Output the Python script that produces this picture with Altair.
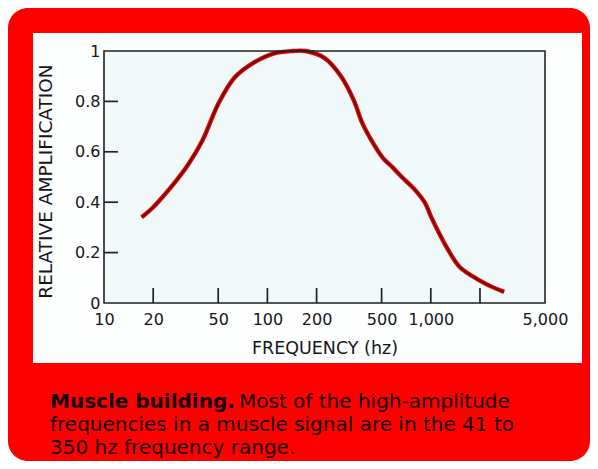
import altair as alt
import pandas as pd

# ---- data ----
freq_hz = [17, 20, 23.5, 28, 32, 40, 50, 63, 83, 109, 143, 171, 224, 282, 337, 381,
           443, 510, 580, 665, 803, 922, 1000, 1099, 1259, 1503, 1973, 2387, 2810]
rel_amp = [0.34, 0.38, 0.43, 0.49, 0.54, 0.645, 0.79, 0.895, 0.955, 0.99, 1.0, 1.0, 0.972, 0.9, 0.806, 0.714,
           0.635, 0.575, 0.54, 0.50, 0.448, 0.397, 0.345, 0.29, 0.218, 0.143, 0.091, 0.063, 0.044]

x_label_values = [10, 20, 50, 100, 200, 500, 1000, 5000]
x_tick_marks = [20, 50, 100, 200, 500, 1000, 2000]
y_label_values = [0, 0.2, 0.4, 0.6, 0.8, 1]
y_tick_marks = [0.2, 0.4, 0.6, 0.8]

x_title = "FREQUENCY (hz)"
y_title = "RELATIVE AMPLIFICATION"
caption_bold = "Muscle building."
caption_lines = ["Most of the high-amplitude",
                 "frequencies in a muscle signal are in the 41 to",
                 "350 hz frequency range."]

# ---- layout ----
W, H = 441, 252          # plot area
PL, PT = 96, 43          # padding left/top
CW, CH = 582, 453        # whole canvas
RED = "#fd0000"
TXT = "#161616"

curve = pd.DataFrame({"freq": freq_hz, "amp": rel_amp})
xt = pd.DataFrame({"freq": x_tick_marks})
yt = pd.DataFrame({"amp": y_tick_marks})
one = alt.Data(values=[{}])

xscale = alt.Scale(type="log", domain=[10, 5000], nice=False)
yscale = alt.Scale(domain=[0, 1], nice=False)

xaxis = alt.Axis(values=x_label_values, format=",d", title=x_title,
                 labelFont="DejaVu Sans", labelFontSize=16, labelColor=TXT, labelPadding=8,
                 ticks=False, domain=False, grid=False, labelFlush=False,
                 titleFont="DejaVu Sans", titleFontSize=17.5, titleFontWeight="normal", titleColor=TXT,
                 titleX=W / 2, titleY=45, titleBaseline="middle", titleAlign="center", zindex=1)
yaxis = alt.Axis(values=y_label_values, format=".1~f", title=y_title,
                 labelFont="DejaVu Sans", labelFontSize=16, labelColor=TXT, labelPadding=4,
                 ticks=False, domain=False, grid=False, labelFlush=False,
                 titleFont="DejaVu Sans", titleFontSize=18.5, titleFontWeight="normal", titleColor=TXT,
                 titleX=-59, titleY=H / 2 + 4, titleAngle=270, titleBaseline="middle", titleAlign="center",
                 zindex=1)

red_box = alt.Chart(one).mark_rect(fill=RED, cornerRadius=20).encode(
    x=alt.value(-PL), x2=alt.value(CW - PL), y=alt.value(-PT), y2=alt.value(CH - PT))
white_panel = alt.Chart(one).mark_rect(fill="#fdfefe").encode(
    x=alt.value(-71), x2=alt.value(478), y=alt.value(-18), y2=alt.value(312))
plot_fill = alt.Chart(one).mark_rect(fill="#f2f9fb").encode(
    x=alt.value(0), x2=alt.value(W), y=alt.value(0), y2=alt.value(H))

line_outer = alt.Chart(curve).mark_line(color="#e80808", strokeWidth=4.4, interpolate="catmull-rom").encode(
    x=alt.X("freq:Q", scale=xscale, axis=xaxis),
    y=alt.Y("amp:Q", scale=yscale, axis=yaxis))
line_inner = alt.Chart(curve).mark_line(color="#6e0b0b", strokeWidth=2.0, interpolate="catmull-rom").encode(
    x=alt.X("freq:Q"), y=alt.Y("amp:Q"))

xticks = alt.Chart(xt).mark_rule(color="#222", strokeWidth=1.7).encode(
    x=alt.X("freq:Q"), y=alt.value(H), y2=alt.value(H - 15))
yticks = alt.Chart(yt).mark_rule(color="#222", strokeWidth=1.7).encode(
    y=alt.Y("amp:Q"), x=alt.value(0), x2=alt.value(14))
frame = alt.Chart(one).mark_rect(fill=None, stroke="#222", strokeWidth=1.6).encode(
    x=alt.value(0), x2=alt.value(W), y=alt.value(0), y2=alt.value(H))

cap_font = dict(font="DejaVu Sans", fontSize=20, color="#150505", align="left", baseline="alphabetic")
cap0 = alt.Chart(one).mark_text(fontWeight="bold", **cap_font).encode(
    x=alt.value(-54), y=alt.value(357), text=alt.value(caption_bold))
cap1 = alt.Chart(one).mark_text(**cap_font).encode(
    x=alt.value(135), y=alt.value(357), text=alt.value(caption_lines[0]))
cap2 = alt.Chart(one).mark_text(**cap_font).encode(
    x=alt.value(-54), y=alt.value(380), text=alt.value(caption_lines[1]))
cap3 = alt.Chart(one).mark_text(**cap_font).encode(
    x=alt.value(-54), y=alt.value(403), text=alt.value(caption_lines[2]))

chart = alt.layer(
    red_box, white_panel, plot_fill, line_outer, line_inner, xticks, yticks, frame, cap0, cap1, cap2, cap3
).properties(
    width=W, height=H,
    autosize=alt.AutoSizeParams(type="none"),
    padding={"left": PL, "top": PT, "right": CW - PL - W, "bottom": CH - PT - H},
    background="white",
).configure_view(stroke=None)

chart.save("out.html", embed_options={"renderer": "svg", "actions": False})
